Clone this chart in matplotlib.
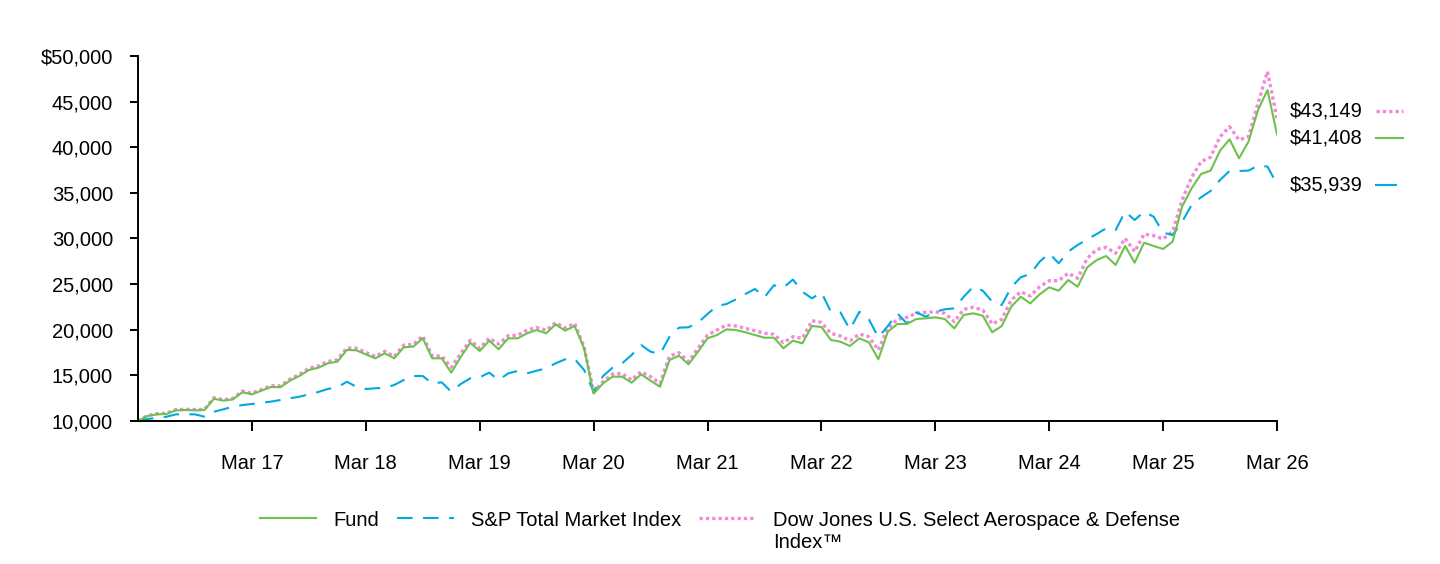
import matplotlib
matplotlib.use("Agg")
import matplotlib.pyplot as plt
from matplotlib.lines import Line2D
from matplotlib.ticker import FuncFormatter

# monthly points, Mar 2016 .. Mar 2026
months = list(range(121))
tick_months = [12, 24, 36, 48, 60, 72, 84, 96, 108, 120]
tick_labels = ["Mar 17", "Mar 18", "Mar 19", "Mar 20", "Mar 21",
               "Mar 22", "Mar 23", "Mar 24", "Mar 25", "Mar 26"]
y_ticks = [10000, 15000, 20000, 25000, 30000, 35000, 40000, 45000, 50000]

fund = [
    10000, 10550, 10730, 10770, 11170, 11200, 11170, 11200, 12440, 12230, 12370, 13150,
    12920, 13320, 13730, 13700, 14420, 14930, 15590, 15840, 16320, 16500, 17780, 17750,
    17300, 16870, 17420, 16870, 18080, 18150, 19060, 16870, 16870, 15300, 17000, 18580,
    17670, 18800, 17860, 19060, 19060, 19610, 19970, 19610, 20590, 19900, 20410, 17970,
    13000, 14130, 14860, 14860, 14200, 15110, 14420, 13760, 16680, 17160, 16210, 17600,
    19060, 19420, 20040, 19970, 19720, 19420, 19130, 19130, 17970, 18800, 18510, 20410,
    20300, 18880, 18690, 18220, 19060, 18620, 16760, 19790, 20630, 20630, 21180, 21250,
    21360, 21180, 20150, 21620, 21800, 21540, 19720, 20410, 22530, 23620, 22890, 23880,
    24650, 24280, 25450, 24720, 26840, 27640, 28080, 27100, 29180, 27350, 29540, 29180,
    28850, 29650, 33490, 35500, 37070, 37430, 39630, 40870, 38790, 40620, 44090, 46270,
    41408,
]

sp_total = [
    10000, 10220, 10330, 10470, 10730, 10730, 10730, 10470, 11020, 11280, 11570, 11750,
    11860, 12010, 12120, 12300, 12490, 12660, 12920, 13180, 13510, 13690, 14300, 13760,
    13510, 13580, 13650, 13950, 14490, 14930, 14930, 14100, 14240, 13210, 14050, 14680,
    14790, 15300, 14490, 15220, 15480, 15220, 15510, 15770, 16320, 16760, 16800, 15590,
    13210, 14930, 15840, 16320, 17230, 18330, 17600, 17340, 19240, 20230, 20270, 20770,
    21730, 22600, 22820, 23330, 23920, 24470, 23550, 24880, 24620, 25500, 24160, 23440,
    24090, 21970, 21900, 20040, 21970, 21140, 19170, 20410, 21800, 20700, 21910, 21430,
    21970, 22240, 22350, 23620, 24720, 24280, 23070, 22710, 24650, 25750, 26110, 27460,
    28380, 27280, 28560, 29290, 29910, 30490, 31120, 30930, 32940, 32030, 32940, 32390,
    30640, 30380, 31830, 33670, 34510, 35210, 36410, 37400, 37400, 37440, 37990, 37880,
    35939,
]

dj_aero = [
    10000, 10600, 10800, 10850, 11250, 11280, 11250, 11280, 12550, 12330, 12480, 13280,
    13050, 13450, 13870, 13850, 14580, 15100, 15780, 16030, 16520, 16720, 18000, 17980,
    17520, 17080, 17640, 17080, 18320, 18400, 19320, 17120, 17120, 15880, 17400, 18850,
    17950, 19080, 18440, 19350, 19400, 19970, 20250, 19950, 20770, 20200, 20700, 18100,
    13210, 14300, 15150, 15200, 14490, 15400, 14860, 14130, 17120, 17480, 16500, 17970,
    19420, 19970, 20520, 20410, 20150, 19900, 19610, 19500, 18580, 19240, 19060, 20990,
    20800, 19610, 19320, 18800, 19530, 19240, 17780, 20150, 21140, 21360, 21800, 21910,
    21970, 21800, 20880, 22240, 22460, 22160, 20630, 21140, 23260, 24160, 23700, 24720,
    25380, 25380, 26190, 25640, 27820, 28800, 29030, 28380, 30020, 28560, 30490, 30310,
    29950, 30750, 34220, 36700, 38420, 38900, 41160, 42250, 40800, 41160, 44820, 48300,
    43149,
]

GREEN = "#6CC24A"
BLUE = "#00A9E0"
PINK = "#F38AD9"
PINK_STYLE = (0, (1, 0.9))


def main():
    plt.rcParams['font.family'] = ['Liberation Sans', 'DejaVu Sans']
    fs = 14.5

    fig = plt.figure(figsize=(14.4, 5.64), dpi=100)
    ax = fig.add_axes([138/1440, 1 - 421/564, (1277 - 138)/1440, (421 - 56)/564])

    l_dj, = ax.plot(months, dj_aero, color=PINK, lw=2.4, linestyle=PINK_STYLE,
                    label="Dow Jones U.S. Select Aerospace & Defense")
    l_sp, = ax.plot(months, sp_total, color=BLUE, lw=1.5, dashes=(7.5, 5),
                    label="S&P Total Market Index")
    l_fund, = ax.plot(months, fund, color=GREEN, lw=1.5, label="Fund")

    ax.set_xlim(0, 120)
    ax.set_ylim(10000, 50000)
    ax.set_xticks(tick_months)
    ax.set_xticklabels(tick_labels)
    ax.set_yticks(y_ticks)
    ax.yaxis.set_major_formatter(FuncFormatter(
        lambda v, p: f"${v:,.0f}" if v == 50000 else f"{v:,.0f}"))
    for s in ["top", "right"]:
        ax.spines[s].set_visible(False)
    for s in ["left", "bottom"]:
        ax.spines[s].set_linewidth(1.4)
    ax.tick_params(axis="x", length=7, width=1.4, pad=17, labelsize=fs)
    ax.tick_params(axis="y", length=6, width=1.4, pad=12, labelsize=fs)

    # end-value labels at the right, each followed by a small line sample
    end_labels = [
        (dj_aero[-1], 7.5, dict(color=PINK, lw=2.4, linestyle=PINK_STYLE), 27),
        (fund[-1], -3.5, dict(color=GREEN, lw=1.5, linestyle="-"), 27),
        (sp_total[-1], -1, dict(color=BLUE, lw=1.5, linestyle="-"), 20),
    ]
    texts = []
    for val, dy, style, length in end_labels:
        t = ax.annotate(f"${val:,.0f}", xy=(120, val), xytext=(13, dy),
                        textcoords="offset pixels", va="center", ha="left",
                        fontsize=fs, annotation_clip=False)
        texts.append((t, style, length))

    leg = fig.legend(handles=[l_fund, l_sp, l_dj], loc="center", ncol=3,
                     bbox_to_anchor=(0.5, 1 - 520/564), frameon=False, fontsize=fs,
                     handlelength=2.8, handletextpad=0.85, columnspacing=0.9)

    fig.canvas.draw()
    r = fig.canvas.get_renderer()
    W, H = fig.bbox.width, fig.bbox.height
    for t, style, length in texts:
        bb = t.get_window_extent(r)
        yc = (bb.y0 + bb.y1) / 2
        x0 = bb.x1 + 13
        fig.add_artist(Line2D([x0 / W, (x0 + length) / W], [yc / H, yc / H],
                              transform=fig.transFigure, **style))

    bb = leg.get_texts()[2].get_window_extent(r)
    fig.text(bb.x0 / W, (bb.y0 - 3) / H, "Index\u2122", ha="left", va="top", fontsize=fs)

    fig.savefig("out.png", dpi=100)


if __name__ == "__main__":
    main()
